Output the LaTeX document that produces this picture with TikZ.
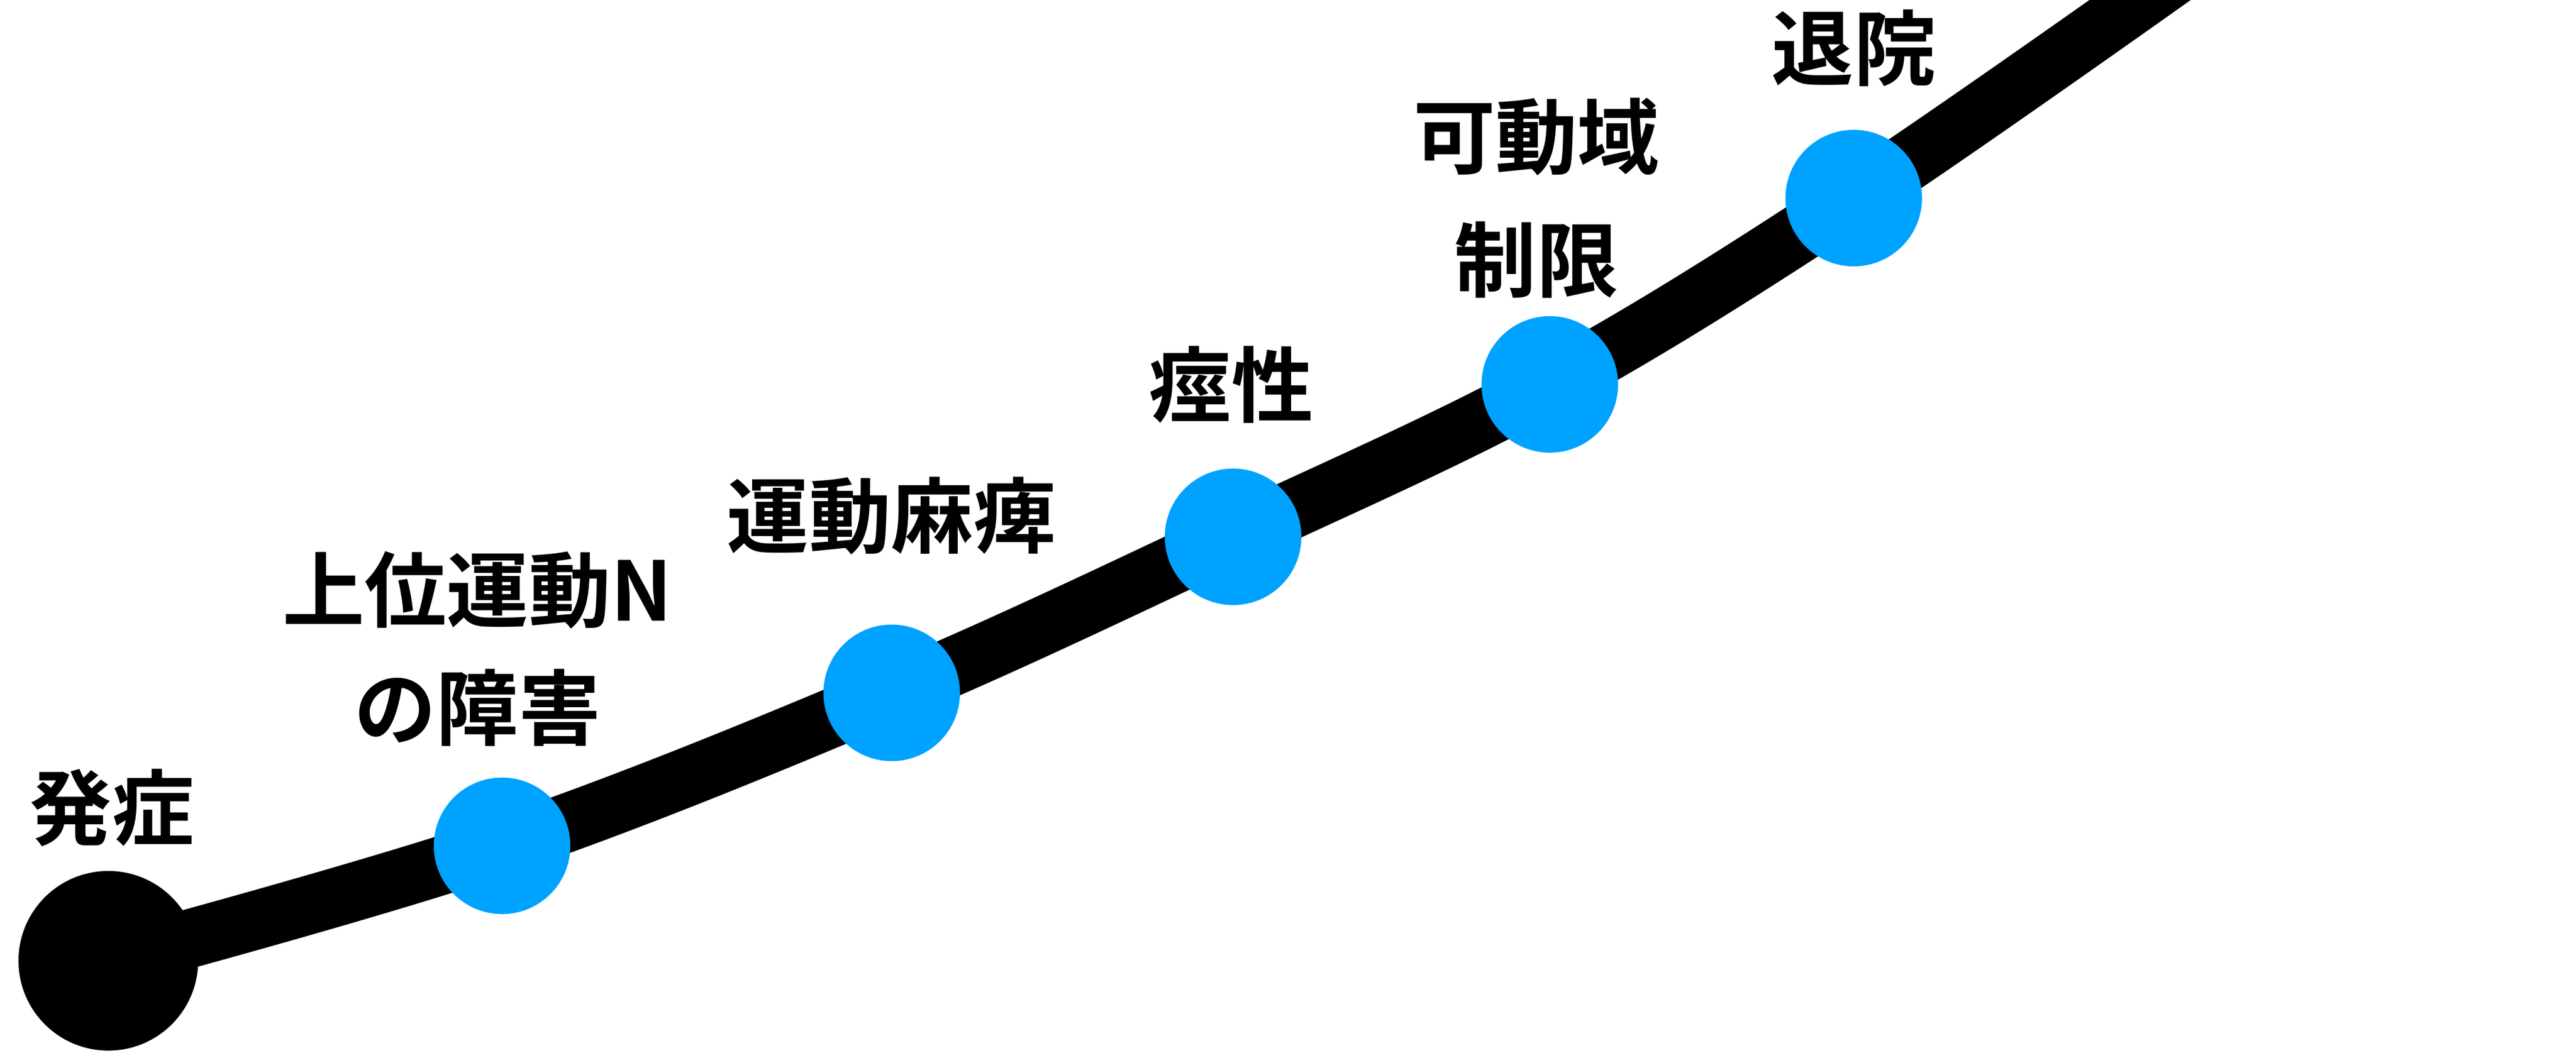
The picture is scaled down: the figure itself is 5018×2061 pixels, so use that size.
\documentclass[tikz,border=0pt]{standalone}
\usepackage{fontspec}
\setmainfont{Noto Sans CJK JP Bold}
\usetikzlibrary{backgrounds}
\definecolor{dotblue}{RGB}{0,162,255}
\tikzset{
  startdot/.style={circle, fill=black, minimum size=35pt, inner sep=0pt},
  stagedot/.style={circle, fill=dotblue, minimum size=26.6pt, inner sep=0pt},
  stagelabel/.style={inner sep=0pt, align=center, font=\fontsize{16}{24}\selectfont},
  timeline/.style={line width=11.4pt, black},
}
\begin{document}
\begin{tikzpicture}[x=0.1pt, y=-0.1pt]
\useasboundingbox (0,0) rectangle (5018,2061);
\node[startdot] (n0) at (211,1872) {};
\node[stagedot] (n1) at (978,1648) {};
\node[stagedot] (n2) at (1737,1350) {};
\node[stagedot] (n3) at (2402,1046) {};
\node[stagedot] (n4) at (3019,749) {};
\node[stagedot] (n5) at (3611,386) {};
\coordinate (nend) at (4262,-66);
\begin{pgfonlayer}{background}
\clip (0,0) rectangle (5018,2061);
\draw[timeline] plot[smooth, tension=0.6] coordinates {(n0.center) (n1.center) (n2.center) (n3.center) (n4.center) (n5.center) (nend)};
\end{pgfonlayer}
\node[stagelabel] (l0) at (218,1574) {発症};
\node[stagelabel, font=\fontsize{16}{23}\selectfont] (l1) at (930,1264) {上位運動N\\の障害};
\node[stagelabel] (l2) at (1736,1005) {運動麻痺};
\node[stagelabel] (l3) at (2399,750) {痙性};
\node[stagelabel] (l4) at (2993,386) {可動域\\制限};
\node[stagelabel] (l5) at (3611,94) {退院};
\end{tikzpicture}
\end{document}
